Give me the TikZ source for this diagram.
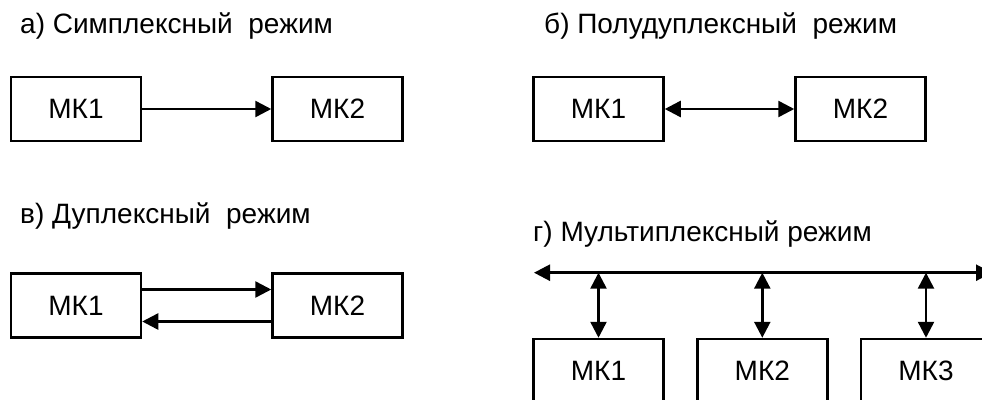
\documentclass[tikz,border=0pt]{standalone}
\usepackage{fontspec}
\setmainfont{Liberation Sans}
\usetikzlibrary{arrows.meta}
\begin{document}
\begin{tikzpicture}[x=1pt,y=-1pt,
  box/.style={draw, line width=2.5pt, minimum width=130pt, minimum height=64pt, inner sep=0pt, font=\fontsize{28}{32}\selectfont},
  title/.style={anchor=base west, inner sep=0pt, font=\fontsize{28}{32}\selectfont},
  conn/.style={line width=2.5pt},
  >={Triangle[length=16pt,width=16pt]}]
\useasboundingbox (0,0) rectangle (982,399);
\clip (0,0) rectangle (982,399);
% titles
\node[title] (ta) at (20,33.5) {а) Симплексный~~режим};
\node[title] (tb) at (544,33.5) {б) Полудуплексный~~режим};
\node[title] (tc) at (20,223.5) {в) Дуплексный~~режим};
\node[title] (td) at (533,241.5) {г) Мультиплексный режим};
% a
\node[box] (a1) at (76,109) {МК1};
\node[box] (a2) at (337.5,109) {МК2};
\draw[conn,->] (a1) -- (a2);
% b
\node[box] (b1) at (598.5,109) {МК1};
\node[box] (b2) at (860.5,109) {МК2};
\draw[conn,<->] (b1) -- (b2);
% c
\node[box] (c1) at (76,305.5) {МК1};
\node[box] (c2) at (337.5,305.5) {МК2};
\draw[conn,->] ([yshift=16pt]c1.east) -- ([yshift=16pt]c2.west);
\draw[conn,->] ([yshift=-16pt]c2.west) -- ([yshift=-16pt]c1.east);
% d
\node[box] (d1) at (598.5,371) {МК1};
\node[box] (d2) at (762.3,371) {МК2};
\node[box] (d3) at (926,371) {МК3};
\coordinate (busl) at (534,272.7);
\coordinate (busr) at (992,272.7);
\draw[conn,<->] (busl) -- (busr);
\draw[conn,<->] (d1.north |- busl) -- (d1.north);
\draw[conn,<->] (d2.north |- busl) -- (d2.north);
\draw[conn,<->] (d3.north |- busl) -- (d3.north);
\end{tikzpicture}
\end{document}
